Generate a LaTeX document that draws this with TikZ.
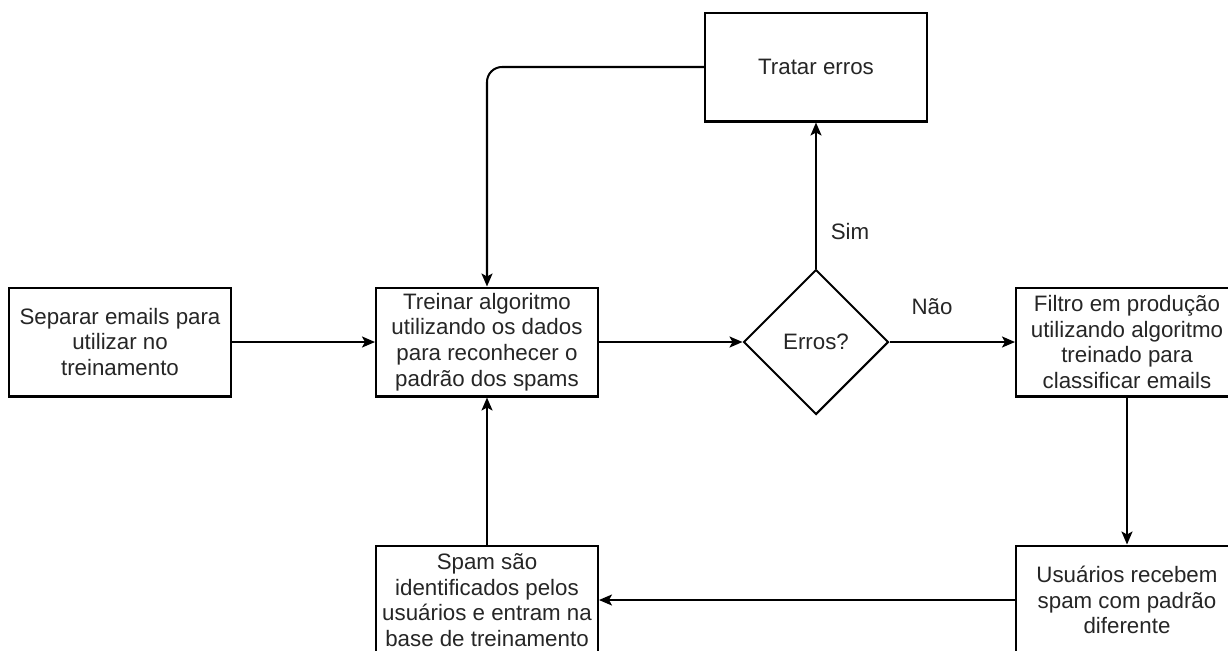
\documentclass[tikz,border=0pt]{standalone}
\usepackage{fontspec}
\setmainfont{Liberation Sans}
\usetikzlibrary{shapes.geometric,arrows.meta}
\definecolor{txt}{HTML}{262626}
\tikzset{
  box/.style={draw=black, line width=1.15pt, minimum width=4.44cm, minimum height=2.18cm,
    inner sep=0pt, align=center, text=txt, font=\fontsize{12.7}{14.6}\selectfont},
  dec/.style={draw=black, line width=1.15pt, diamond, aspect=1, minimum width=2.9cm,
    minimum height=2.9cm, inner sep=0pt, text=txt, font=\fontsize{12.7}{14.6}\selectfont},
  conn/.style={draw=black, line width=1.15pt, -{Stealth[length=0.26cm,width=0.22cm,inset=0.06cm]}},
  lbl/.style={text=txt, font=\fontsize{12.7}{14.6}\selectfont},
}
\begin{document}
\begin{tikzpicture}[x=0.02cm,y=-0.02cm]
\fill[white] (0,0) rectangle (1228,650);
\clip (0,0) rectangle (1228,650);
\node[box] (sep) at (120,342) {Separar emails para\\utilizar no\\treinamento};
\node[box] (tre) at (487,342) {Treinar algoritmo\\utilizando os dados\\para reconhecer o\\padrão dos spams};
\node[dec] (err) at (816,342) {Erros?};
\node[box] (tra) at (816,67) {Tratar erros};
\node[box] (fil) at (1127,342) {Filtro em produção\\utilizando algoritmo\\treinado para\\classificar emails};
\node[box] (usu) at (1127,600) {Usuários recebem\\spam com padrão\\diferente};
\node[box] (spa) at (487,600) {Spam são\\identificados pelos\\usuários e entram na\\base de treinamento};
\draw[conn] (sep) -- (tre);
\draw[conn] (tre) -- (err);
\draw[conn] (err) -- (fil);
\draw[conn] (err) -- (tra);
\draw[conn, rounded corners=0.3cm] (tra.west) -| (tre.north);
\draw[conn] (fil) -- (usu);
\draw[conn] (usu) -- (spa);
\draw[conn] (spa) -- (tre);
\node[lbl] (nao) at (932,307) {Não};
\node[lbl] (sim) at (850,232) {Sim};
\end{tikzpicture}
\end{document}
